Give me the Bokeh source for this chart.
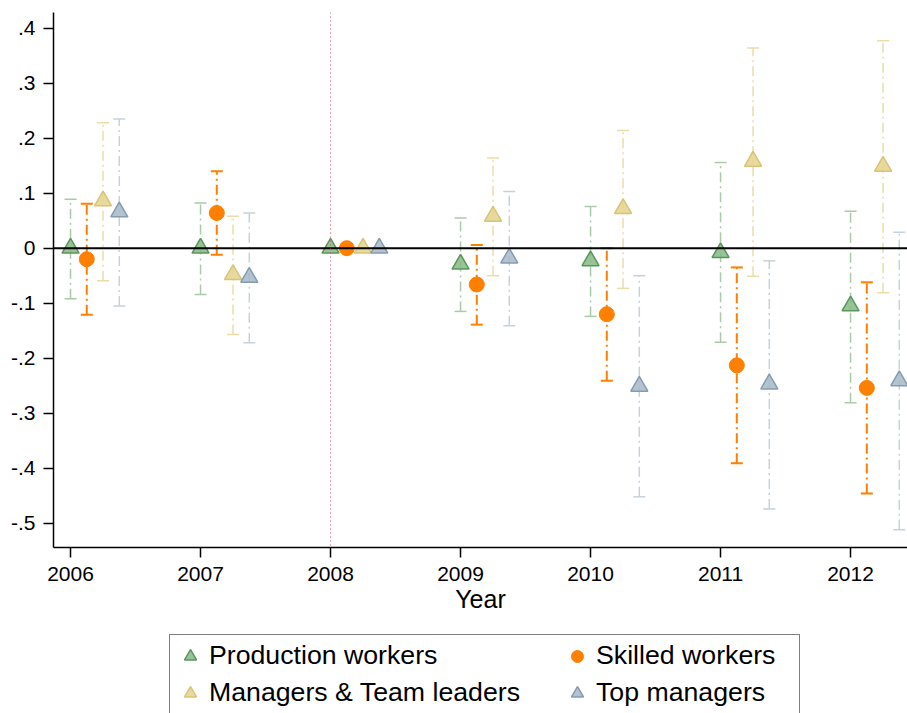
from bokeh.plotting import figure
from bokeh.layouts import column
from bokeh.models import (ColumnDataSource, FixedTicker, Span, Legend, LegendItem)
from bokeh.embed import file_html
from bokeh.resources import INLINE

# ---------------- data ----------------
years = [2006, 2007, 2008, 2009, 2010, 2011, 2012]
year_labels = ["2006", "2007", "2008", "2009", "2010", "2011", "2012"]

prod = [0.0, 0.0, 0.0, -0.029, -0.023, -0.008, -0.105]
prod_lo = [-0.092, -0.084, 0.0, -0.115, -0.124, -0.171, -0.281]
prod_hi = [0.089, 0.082, 0.0, 0.055, 0.076, 0.156, 0.067]

skil = [-0.020, 0.064, 0.0, -0.066, -0.120, -0.213, -0.254]
skil_lo = [-0.121, -0.012, 0.0, -0.139, -0.241, -0.391, -0.446]
skil_hi = [0.081, 0.140, 0.0, 0.006, 0.000, -0.035, -0.062]

mgr = [0.086, -0.048, 0.0, 0.058, 0.072, 0.158, 0.149]
mgr_lo = [-0.059, -0.157, 0.0, -0.050, -0.073, -0.051, -0.081]
mgr_hi = [0.228, 0.058, 0.0, 0.164, 0.214, 0.364, 0.377]

top = [0.066, -0.053, 0.0, -0.018, -0.251, -0.247, -0.241]
top_lo = [-0.105, -0.172, 0.0, -0.141, -0.452, -0.474, -0.512]
top_hi = [0.235, 0.064, 0.0, 0.103, -0.050, -0.023, 0.029]

y_ticks = [-0.5, -0.4, -0.3, -0.2, -0.1, 0.0, 0.1, 0.2, 0.3, 0.4]
y_tick_labels = ["-.5", "-.4", "-.3", "-.2", "-.1", "0", ".1", ".2", ".3", ".4"]

base_year = 2008

series = [
    # name, est, lo, hi, offset, marker, fill, edge, ci color, ci width
    ("Production workers", prod, prod_lo, prod_hi, 0.0, "triangle", "#86b886", "#5a965a", "#aacaaa", 1.5),
    ("Skilled workers", skil, skil_lo, skil_hi, 0.125, "circle", "#ff7f00", "#ff7f00", "#ff7f00", 2.0),
    ("Managers & Team leaders", mgr, mgr_lo, mgr_hi, 0.25, "triangle", "#e4d38e", "#d8c474", "#ebdda8", 1.5),
    ("Top managers", top, top_lo, top_hi, 0.375, "triangle", "#a7b9c8", "#859cb0", "#c6d2dc", 1.5),
]

FONT = "Liberation Sans"

p = figure(width=907, height=620,
           x_range=(2005.869, 2012.438), y_range=(-0.5442, 0.4285),
           output_backend="svg", toolbar_location=None,
           min_border_left=53, min_border_right=0, min_border_top=12,
           min_border_bottom=73)
p.outline_line_color = None
p.xgrid.visible = False
p.ygrid.visible = False
p.background_fill_color = "white"
p.border_fill_color = "white"

# axes
p.xaxis.ticker = FixedTicker(ticks=years)
p.xaxis.major_label_overrides = {y: l for y, l in zip(years, year_labels)}
p.yaxis.ticker = FixedTicker(ticks=y_ticks)
p.yaxis.major_label_overrides = {t: l for t, l in zip(y_ticks, y_tick_labels)}
for ax in (p.xaxis, p.yaxis):
    ax.axis_line_color = "black"
    ax.axis_line_width = 1.5
    ax.major_tick_line_color = "black"
    ax.major_tick_line_width = 1.5
    ax.major_tick_out = 10
    ax.major_tick_in = 0
    ax.minor_tick_line_color = None
    ax.major_label_text_font = FONT
    ax.major_label_text_font_size = "21px"
    ax.major_label_text_color = "black"
p.xaxis.major_label_standoff = 9
p.yaxis.major_label_standoff = 8
p.xaxis.axis_label = "Year"
p.xaxis.axis_label_text_font = FONT
p.xaxis.axis_label_text_font_size = "25px"
p.xaxis.axis_label_text_font_style = "normal"
p.xaxis.axis_label_text_color = "black"
p.xaxis.axis_label_standoff = 1

# reference lines
p.add_layout(Span(location=0, dimension="width", line_color="black", line_width=2))
p.add_layout(Span(location=base_year, dimension="height", line_color="#cc4466",
                  line_width=1, line_dash="1 3"))

styles = {}
for name, est, lo, hi, off, marker, fill, edge, cic, ciw in series:
    xs = [y + off for y in years]
    keep = [i for i in range(len(years)) if lo[i] != hi[i]]
    ci = ColumnDataSource(dict(x=[xs[i] for i in keep], lo=[lo[i] for i in keep],
                               hi=[hi[i] for i in keep]))
    p.segment(x0="x", y0="lo", x1="x", y1="hi", source=ci, line_color=cic,
              line_width=ciw, line_dash="10 4 2 4")
    p.scatter(x="x", y="lo", source=ci, marker="dash", size=12, line_color=cic, line_width=ciw)
    p.scatter(x="x", y="hi", source=ci, marker="dash", size=12, line_color=cic, line_width=ciw)
    src = ColumnDataSource(dict(x=xs, y=est))
    if marker == "circle":
        kw = dict(marker="circle", size=15, fill_color=fill, fill_alpha=1.0,
                  line_color=edge, line_width=1)
    else:
        kw = dict(marker="triangle", size=17, fill_color=fill, fill_alpha=0.85,
                  line_color=edge, line_width=1.5)
    p.scatter(x="x", y="y", source=src, **kw)
    styles[name] = kw

# ---------------- legend panel (separate strip below the chart) ----------------
q = figure(width=907, height=93, x_range=(0, 1), y_range=(0, 1),
           output_backend="svg", toolbar_location=None,
           min_border_left=0, min_border_right=0, min_border_top=0, min_border_bottom=0)
q.axis.visible = False
q.xgrid.visible = False
q.ygrid.visible = False
q.outline_line_color = None
q.background_fill_color = "white"
q.border_fill_color = "white"

leg_r = {}
for name, *_ in series:
    # legend key glyphs, placed outside the visible range
    leg_r[name] = q.scatter(x=[-10], y=[-10], **styles[name])

def make_legend(names, loc, boxed):
    lg = Legend(items=[LegendItem(label=n, renderers=[leg_r[n]]) for n in names],
                location=loc, orientation="vertical")
    lg.label_text_font = FONT
    lg.label_text_font_size = "26.7px"
    lg.label_text_color = "black"
    lg.glyph_width = 30
    lg.glyph_height = 30
    lg.label_height = 30
    lg.label_standoff = 4
    lg.spacing = 6
    lg.padding = 5
    lg.margin = 0
    if boxed:
        lg.label_width = 585
        lg.border_line_color = "black"
        lg.border_line_width = 1
        lg.background_fill_color = "white"
        lg.background_fill_alpha = 1
    else:
        lg.border_line_color = None
        lg.background_fill_alpha = 0
    return lg

q.add_layout(make_legend(["Production workers", "Managers & Team leaders"], (116, -1), True), "center")
q.add_layout(make_legend(["Skilled workers", "Top managers"], (509, 5), False), "center")

layout = column(p, q, spacing=0)
open("out.html", "w").write(file_html(layout, INLINE))
